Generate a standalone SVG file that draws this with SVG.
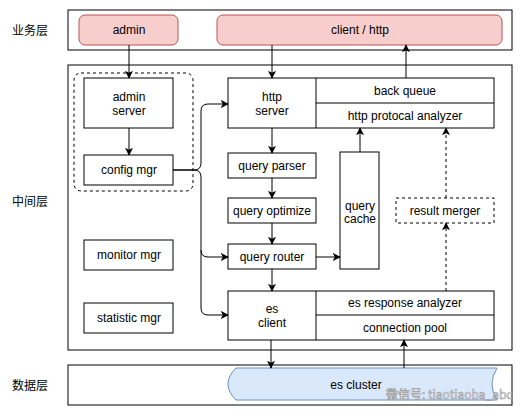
<svg xmlns="http://www.w3.org/2000/svg" width="529" height="416" viewBox="0 0 529 416">
<defs>
<marker id="arr" viewBox="0 0 10 10" refX="9" refY="5" markerWidth="8" markerHeight="8" markerUnits="userSpaceOnUse" orient="auto">
<path d="M0 0 L10 5 L0 10 L2.5 5 Z" fill="#000"/>
</marker>
<style>
.band{fill:#fff;stroke:#000;stroke-width:1}
.box{fill:#fff;stroke:#000;stroke-width:1}
.pink{fill:#f8cecc;stroke:#b85450;stroke-width:1}
.dash{fill:none;stroke:#000;stroke-width:1;stroke-dasharray:3 3}
.t{font-family:"Liberation Sans",Arial,sans-serif;font-size:12px;fill:#000;text-anchor:middle}
.z{font-family:"Noto Sans CJK SC","Noto Sans",sans-serif;font-size:12px;fill:#000;text-anchor:middle}
.c{fill:none;stroke:#000;stroke-width:1;marker-end:url(#arr)}
.cd{fill:none;stroke:#000;stroke-width:1;stroke-dasharray:3 3;marker-end:url(#arr)}
</style>
</defs>
<rect width="529" height="416" fill="#fff"/>

<g id="layers">
<rect class="band" x="68" y="10" width="444" height="40"/>
<rect class="band" x="68" y="65" width="444" height="285"/>
<rect class="band" x="68" y="365" width="444" height="40"/>
<text class="z" x="30" y="35">业务层</text>
<text class="z" x="30" y="206">中间层</text>
<text class="z" x="30" y="390">数据层</text>
</g>

<g id="admin">
<rect class="pink" x="79" y="15" width="99" height="30" rx="6"/>
<text class="t" x="129" y="34">admin</text>
</g>
<g id="client">
<rect class="pink" x="217" y="15" width="285" height="30" rx="6"/>
<text class="t" x="360" y="34">client / http</text>
</g>

<g id="config-group">
<rect class="dash" x="74" y="73" width="119" height="118" rx="7"/>
</g>
<g id="admin-server">
<rect class="box" x="84" y="78" width="89" height="50"/>
<text class="t" x="129" y="101">admin</text>
<text class="t" x="129" y="115">server</text>
</g>
<g id="config-mgr">
<rect class="box" x="84" y="155" width="89" height="30"/>
<text class="t" x="129" y="174">config mgr</text>
</g>
<g id="monitor-mgr">
<rect class="box" x="84" y="240" width="89" height="30"/>
<text class="t" x="129" y="259">monitor mgr</text>
</g>
<g id="statistic-mgr">
<rect class="box" x="84" y="303" width="89" height="30"/>
<text class="t" x="129" y="322">statistic mgr</text>
</g>

<g id="http-server">
<rect class="box" x="228" y="78" width="266" height="50"/>
<line x1="316" y1="78" x2="316" y2="128" stroke="#000"/>
<line x1="316" y1="103" x2="494" y2="103" stroke="#000"/>
<text class="t" x="272" y="101">http</text>
<text class="t" x="272" y="115">server</text>
<text class="t" x="405" y="95">back queue</text>
<text class="t" x="405" y="120">http protocal analyzer</text>
</g>
<g id="query-parser">
<rect class="box" x="228" y="153" width="88" height="25"/>
<text class="t" x="272" y="170">query parser</text>
</g>
<g id="query-optimize">
<rect class="box" x="228" y="198" width="88" height="25"/>
<text class="t" x="272" y="215">query optimize</text>
</g>
<g id="query-router">
<rect class="box" x="228" y="244" width="88" height="25"/>
<text class="t" x="272" y="261">query router</text>
</g>
<g id="query-cache">
<rect class="box" x="340" y="152" width="39" height="117"/>
<text class="t" x="360" y="210">query</text>
<text class="t" x="360" y="223">cache</text>
</g>
<g id="result-merger">
<rect class="dash" x="396" y="198" width="98" height="25"/>
<text class="t" x="445" y="215">result merger</text>
</g>
<g id="es-client">
<rect class="box" x="228" y="291" width="266" height="49"/>
<line x1="316" y1="291" x2="316" y2="340" stroke="#000"/>
<line x1="316" y1="315" x2="494" y2="315" stroke="#000"/>
<text class="t" x="272" y="313">es</text>
<text class="t" x="272" y="327">client</text>
<text class="t" x="405" y="307">es response analyzer</text>
<text class="t" x="405" y="332">connection pool</text>
</g>
<g id="es-cluster">
<path d="M236 368 L497 368 Q487 384 497 400 L236 400 Q220 384 236 368 Z" fill="#dae8fc" stroke="#6c8ebf"/>
<text class="t" x="356" y="389">es cluster</text>
</g>

<g id="connectors">
<path class="c" d="M129 45 L129 78"/>
<path class="c" d="M272 45 L272 78"/>
<path class="c" d="M406 78 L406 45"/>
<path class="c" d="M129 128 L129 155"/>
<path class="c" d="M272 128 L272 153"/>
<path class="c" d="M360 152 L360 128"/>
<path class="cd" d="M446 198 L446 128"/>
<path class="cd" d="M446 291 L446 223"/>
<path class="c" d="M272 178 L272 198"/>
<path class="c" d="M272 223 L272 244"/>
<path class="c" d="M316 257 L340 257"/>
<path class="c" d="M272 269 L272 291"/>
<path class="c" d="M173 170 L194 170 Q201 170 201 163 L201 111 Q201 104 208 104 L228 104"/>
<path class="c" d="M173 170 L194 170 Q201 170 201 177 L201 250 Q201 257 208 257 L228 257"/>
<path class="c" d="M201 250 L201 308 Q201 315 208 315 L228 315"/>
<path class="c" d="M271 340 L271 368"/>
<path class="c" d="M404 368 L404 340"/>
</g>

<g id="watermark">
<text x="386" y="399" font-family="'Noto Sans CJK SC','Noto Sans',sans-serif" font-size="12" fill="#ffffff" stroke="#999" stroke-width="0.6">微信号: tiaotiaoba_abc</text>
</g>
</svg>
